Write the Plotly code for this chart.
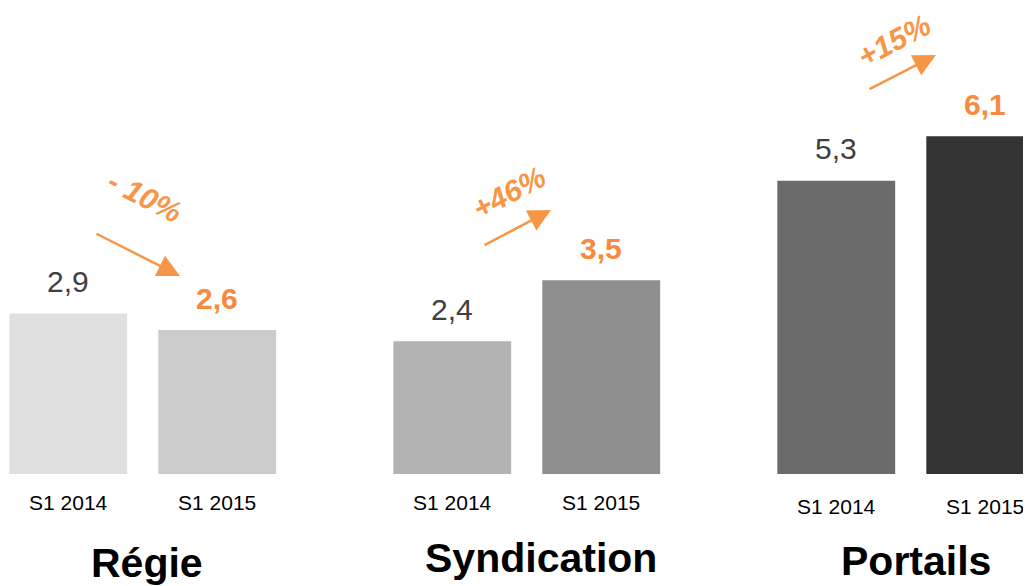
import plotly.graph_objects as go

W, H = 1031, 586
PAGE_OFF = 8  # body margin of the html page
ORANGE = "#F79646"
ORANGE_VAL = "#F68A3E"
DARK = "#404040"
FONT = "Liberation Sans, Arial, sans-serif"

groups = ["Régie", "Syndication", "Portails"]
periods = ["S1 2014", "S1 2015"]
values_2014 = [2.9, 2.4, 5.3]
values_2015 = [2.6, 3.5, 6.1]
labels_2014 = ["2,9", "2,4", "5,3"]
labels_2015 = ["2,6", "3,5", "6,1"]
changes = ["- 10%", "+46%", "+15%"]

colors_2014 = ["#E0E0E0", "#B3B3B3", "#6B6B6B"]
colors_2015 = ["#CCCCCC", "#8F8F8F", "#333333"]

BARGAP = 0.224
OFF = (1 - BARGAP) / 4
GROUP_PX = 384.0     # px per category
UNIT_PX = 55.35      # px per value unit
X0_PX = 142.75 - PAGE_OFF
BASE_PX = 474 - PAGE_OFF


def px(x):
    return (x - PAGE_OFF) / W


def py(y):
    return 1 - (y - PAGE_OFF) / H


fig = go.Figure()
fig.add_trace(go.Bar(x=groups, y=values_2014, marker=dict(color=colors_2014, line=dict(width=0)),
                     name=periods[0], hoverinfo="skip"))
fig.add_trace(go.Bar(x=groups, y=values_2015, marker=dict(color=colors_2015, line=dict(width=0)),
                     name=periods[1], hoverinfo="skip"))

ann = []
for g, name in enumerate(groups):
    # value labels above the bars
    ann.append(dict(x=g - OFF, y=values_2014[g], xref="x", yref="y", text=labels_2014[g],
                    showarrow=False, yanchor="middle", yshift=32,
                    font=dict(family=FONT, size=30, color=DARK)))
    ann.append(dict(x=g + OFF, y=values_2015[g], xref="x", yref="y", text=f"<b>{labels_2015[g]}</b>",
                    showarrow=False, yanchor="middle", yshift=32,
                    font=dict(family=FONT, size=30, color=ORANGE_VAL)))
    # period labels under the bars
    ty = 506 if g == 2 else 502
    for k, off in enumerate([-OFF, OFF]):
        ann.append(dict(x=g + off, y=py(ty), xref="x", yref="paper", text=periods[k],
                        showarrow=False, yanchor="middle",
                        font=dict(family=FONT, size=21, color="#000000")))

# group titles
for name, cx, cy in zip(groups, [147, 541, 916], [563, 558, 561]):
    ann.append(dict(x=px(cx), y=py(cy), xref="paper", yref="paper", text=f"<b>{name}</b>",
                    showarrow=False, xanchor="center", yanchor="middle",
                    font=dict(family=FONT, size=41, color="#000000")))

# change arrows
for (tx, ty, ax, ay) in [(180, 276, -85, -43), (551, 210, -68, 36), (936, 55, -68, 35)]:
    ann.append(dict(x=px(tx), y=py(ty), xref="paper", yref="paper", text="",
                    showarrow=True, ax=ax, ay=ay, arrowhead=2, arrowsize=1.8,
                    arrowwidth=2.5, arrowcolor=ORANGE, standoff=0))

# change labels
for txt, cx, cy, ang in zip(changes, [145, 509, 894], [196, 192, 40], [27, -28, -28]):
    ann.append(dict(x=px(cx), y=py(cy), xref="paper", yref="paper", text=f"<b><i>{txt}</i></b>",
                    showarrow=False, textangle=ang, xanchor="center", yanchor="middle",
                    font=dict(family=FONT, size=30, color=ORANGE)))

x0 = -X0_PX / GROUP_PX
y1 = BASE_PX / UNIT_PX
fig.update_layout(
    width=W, height=H,
    barmode="group", bargap=BARGAP, bargroupgap=0.209,
    margin=dict(l=0, r=0, t=0, b=0),
    paper_bgcolor="white", plot_bgcolor="white",
    showlegend=False,
    xaxis=dict(range=[x0, x0 + W / GROUP_PX], visible=False),
    yaxis=dict(range=[y1 - H / UNIT_PX, y1], visible=False),
    annotations=ann,
)

fig.write_html("out.html")
